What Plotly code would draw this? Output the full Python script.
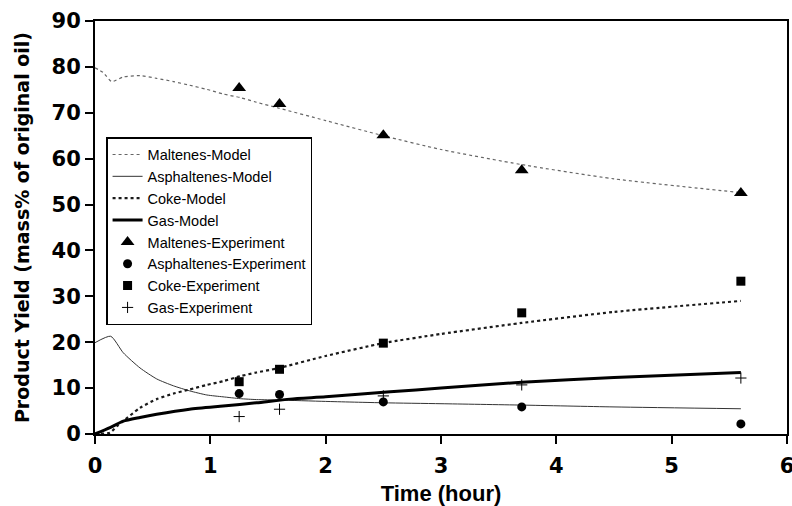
import plotly.graph_objects as go

# Model curves
malt_model_t = [0, 0.07, 0.145, 0.245, 0.39, 0.535, 0.68, 0.82, 0.97, 1.11, 1.26, 1.40, 1.58, 2.0, 2.5, 3.0, 3.7, 4.5, 5.6]
malt_model_y = [79.8, 78.8, 76.8, 77.8, 78.1, 77.5, 76.8, 76.0, 75.1, 74.1, 73.3, 72.3, 71.1, 68.3, 65.0, 62.0, 58.7, 55.6, 52.6]

asph_model_t = [0, 0.136, 0.245, 0.39, 0.535, 0.68, 0.82, 0.97, 1.11, 1.26, 1.40, 1.6, 2.0, 2.5, 3.0, 3.7, 4.5, 5.6]
asph_model_y = [19.9, 21.3, 17.7, 14.4, 12.0, 10.5, 9.4, 8.5, 8.1, 7.7, 7.5, 7.4, 7.1, 6.8, 6.6, 6.3, 5.9, 5.5]

coke_model_t = [0, 0.13, 0.19, 0.245, 0.39, 0.535, 0.68, 0.82, 0.97, 1.11, 1.26, 1.40, 1.58, 2.0, 2.5, 3.0, 3.7, 4.5, 5.6]
coke_model_y = [0, 0.3, 1.7, 2.8, 5.7, 7.6, 8.8, 9.7, 10.7, 11.5, 12.6, 13.4, 14.3, 17.0, 19.8, 21.8, 24.2, 26.6, 29.0]

gas_model_t = [0, 0.13, 0.245, 0.39, 0.535, 0.82, 1.11, 1.40, 1.69, 2.0, 2.56, 3.0, 3.7, 4.5, 5.6]
gas_model_y = [0, 1.4, 2.8, 3.6, 4.3, 5.4, 6.1, 6.8, 7.6, 8.1, 9.2, 10.0, 11.3, 12.3, 13.4]

# Experiments
exp_t = [1.25, 1.6, 2.5, 3.7, 5.6]
malt_exp = [75.4, 71.9, 65.1, 57.5, 52.5]
asph_exp = [8.8, 8.6, 7.0, 5.9, 2.2]
coke_exp = [11.4, 14.1, 19.8, 26.4, 33.3]
gas_exp = [3.8, 5.4, 8.3, 10.7, 12.2]

x_ticks = [0, 1, 2, 3, 4, 5, 6]
y_ticks = [0, 10, 20, 30, 40, 50, 60, 70, 80, 90]

BOLD_FONT = "DejaVu Sans, Arial, sans-serif"
ARIAL = "Liberation Sans, Arial, sans-serif"

fig = go.Figure()
fig.add_trace(go.Scatter(x=malt_model_t, y=malt_model_y, mode="lines", name="Maltenes-Model",
                         legendgroup="a",
                         line=dict(color="#666666", width=1.2, dash="dot", shape="spline", smoothing=0.6)))
fig.add_trace(go.Scatter(x=asph_model_t, y=asph_model_y, mode="lines", name="Asphaltenes-Model",
                         legendgroup="b",
                         line=dict(color="#333333", width=1, shape="spline", smoothing=0.6)))
fig.add_trace(go.Scatter(x=coke_model_t, y=coke_model_y, mode="lines", name="Coke-Model",
                         legendgroup="c",
                         line=dict(color="#1a1a1a", width=2.2, dash="dot", shape="spline", smoothing=0.6)))
fig.add_trace(go.Scatter(x=gas_model_t, y=gas_model_y, mode="lines", name="Gas-Model",
                         legendgroup="d",
                         line=dict(color="black", width=3, shape="spline", smoothing=0.6)))
fig.add_trace(go.Scatter(x=exp_t, y=malt_exp, mode="markers", name="Maltenes-Experiment",
                         legendgroup="e",
                         marker=dict(symbol="triangle-up", size=12, color="black")))
fig.add_trace(go.Scatter(x=exp_t, y=asph_exp, mode="markers", name="Asphaltenes-Experiment",
                         legendgroup="f",
                         marker=dict(symbol="circle", size=9, color="black")))
fig.add_trace(go.Scatter(x=exp_t, y=coke_exp, mode="markers", name="Coke-Experiment",
                         legendgroup="g",
                         marker=dict(symbol="square", size=9, color="black")))
fig.add_trace(go.Scatter(x=exp_t, y=gas_exp, mode="markers", name="Gas-Experiment",
                         legendgroup="h",
                         marker=dict(symbol="cross-thin", size=8, color="black",
                                     line=dict(color="black", width=1))))

fig.update_layout(
    width=792, height=506,
    margin=dict(l=95, r=5, t=21, b=72),
    paper_bgcolor="white", plot_bgcolor="white",
    font=dict(family=ARIAL, color="black"),
    showlegend=True,
    legend=dict(x=0.016, y=0.719, xanchor="left", yanchor="top",
                bgcolor="white", bordercolor="black", borderwidth=1.5,
                font=dict(size=14.5, color="black", family=ARIAL), tracegroupgap=0),
    xaxis=dict(range=[0, 6], tickvals=x_ticks, ticktext=[str(v) for v in x_ticks],
               automargin=False, ticklabeloverflow="allow",
               showgrid=False, zeroline=False, showline=True, linecolor="black", linewidth=2,
               mirror=True, ticks="outside", ticklen=8, tickwidth=1.5, tickcolor="black",
               ticklabelstandoff=4,
               tickfont=dict(size=21, color="black", family=BOLD_FONT, weight="bold"),
               title=dict(text="Time (hour)", font=dict(size=22, family=ARIAL, weight="bold"),
                          standoff=9)),
    yaxis=dict(range=[0, 90], tickvals=y_ticks, ticktext=[str(v) for v in y_ticks],
               automargin=False,
               showgrid=False, zeroline=False, showline=True, linecolor="black", linewidth=2,
               mirror=True, ticks="outside", ticklen=8, tickwidth=1.5, tickcolor="black",
               tickfont=dict(size=21, color="black", family=BOLD_FONT, weight="bold"),
               title=dict(text="Product Yield (mass% of original oil)",
                          font=dict(size=19, family=BOLD_FONT, weight="bold"), standoff=17)),
)

fig.write_html("out.html", config={"displayModeBar": False},
               post_script="document.body.style.margin='0';")
